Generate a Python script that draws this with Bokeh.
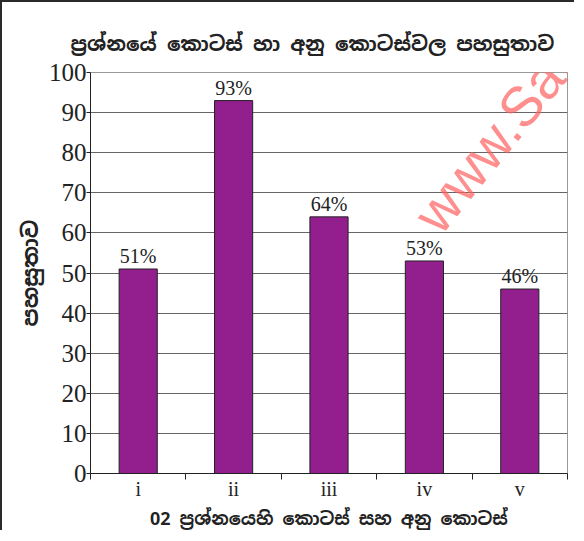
from bokeh.plotting import figure
from bokeh.models import (ColumnDataSource, LabelSet, Label, Range1d, LinearAxis,
                          FixedTicker, SingleIntervalTicker)
from bokeh.embed import file_html
from bokeh.resources import INLINE

categories = ["i", "ii", "iii", "iv", "v"]
values = [51, 93, 64, 53, 46]
value_labels = ["51%", "93%", "64%", "53%", "46%"]
y_ticks_interval = 10

title_text = "ප්‍රශ්නයේ කොටස් හා අනු කොටස්වල පහසුතාව"
x_label = "02 ප්‍රශ්නයෙහි කොටස් සහ අනු කොටස්"
y_label = "පහසුතාව"
watermark = "www.Sample"

SERIF = "Liberation Serif"
SIN = "Noto Sans Sinhala, Noto Serif Sinhala, sans-serif"

n = len(categories)
centers = [i + 0.5 for i in range(n)]
src = ColumnDataSource(dict(x=centers, cat=categories, val=values, lab=value_labels))

p = figure(x_range=Range1d(0, n), y_range=Range1d(0, 100), width=574, height=530,
           output_backend="svg", toolbar_location=None, x_axis_location=None,
           min_border_left=88, min_border_right=9, min_border_top=70,
           min_border_bottom=58)
p.styles = {"border-left": "2px solid #2a2a2a", "border-top": "2px solid #2a2a2a"}
p.background_fill_color = "white"
p.border_fill_color = "white"
p.outline_line_color = "#999999"

p.title.text = title_text
p.title.align = "left"
p.title.offset = -20
p.title.text_font = SIN
p.title.text_font_size = "20.2px"
p.title.text_font_style = "bold"
p.title.text_color = "#222222"
p.title.standoff = 32

p.vbar(x="x", top="val", width=0.4, source=src, fill_color="#931F8F",
       line_color="#222222", line_width=1)

labels = LabelSet(x="x", y="val", text="lab", source=src, y_offset=2,
                  text_align="center", text_baseline="bottom",
                  text_font=SERIF, text_font_size="20px", text_color="#222222")
p.add_layout(labels)

ya = p.yaxis[0]
ya.ticker = SingleIntervalTicker(interval=y_ticks_interval)
ya.minor_tick_line_color = None
ya.major_tick_out = 4
ya.major_tick_in = 0
ya.axis_line_color = "#222222"
ya.major_tick_line_color = "#222222"
ya.major_label_text_font = SERIF
ya.major_label_text_font_size = "25px"
ya.major_label_text_color = "#222222"
ya.major_label_standoff = 0
ya.axis_label = y_label
ya.axis_label_text_font = SIN
ya.axis_label_text_font_size = "22px"
ya.axis_label_text_font_style = "bold"
ya.axis_label_text_color = "#222222"
ya.axis_label_standoff = 2

p.ygrid.grid_line_color = "#666666"
p.xgrid.grid_line_color = None

sep_axis = LinearAxis(ticker=FixedTicker(ticks=list(range(n + 1))),
                      major_label_text_font_size="0px", major_label_standoff=0,
                      major_tick_out=6, major_tick_in=0,
                      minor_tick_line_color=None,
                      axis_line_color="#222222", major_tick_line_color="#222222")
p.add_layout(sep_axis, "below")

cat_axis = LinearAxis(ticker=FixedTicker(ticks=centers),
                      major_label_overrides={c: lab for c, lab in zip(centers, categories)},
                      axis_line_color=None, major_tick_line_color=None,
                      minor_tick_line_color=None,
                      major_label_text_font=SERIF,
                      major_label_text_font_size="20px",
                      major_label_text_color="#222222",
                      major_label_standoff=-8,
                      axis_label=x_label, axis_label_text_font=SIN,
                      axis_label_text_font_size="17.9px",
                      axis_label_text_font_style="bold",
                      axis_label_text_color="#222222",
                      axis_label_standoff=4)
p.add_layout(cat_axis, "below")

wm = Label(x=335, y=249, x_units="screen", y_units="screen", text=watermark,
           angle=0.89, text_font="Liberation Sans", text_font_size="56px",
           text_color="#ff6060", text_alpha=0.7, text_align="left",
           text_baseline="alphabetic")
p.add_layout(wm)

open("out.html", "w").write(file_html(p, INLINE))
